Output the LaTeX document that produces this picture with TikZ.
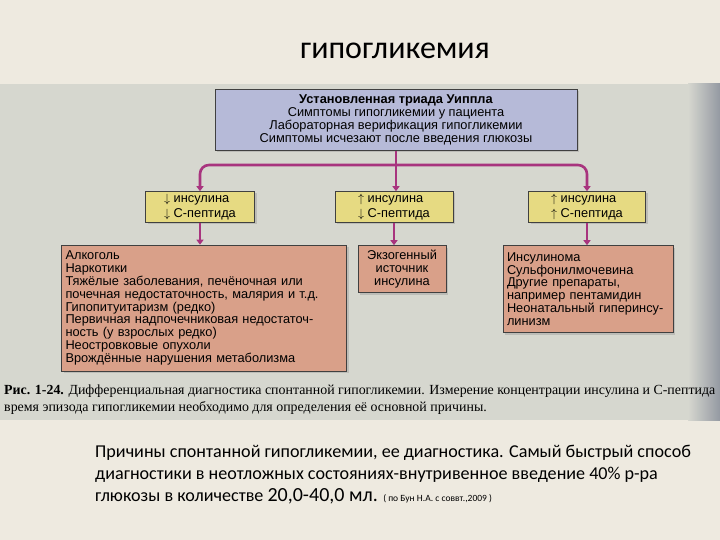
\documentclass[tikz,border=0pt]{standalone}
\usepackage{fontspec}
\usepackage{tikz}
\usetikzlibrary{arrows.meta,shadows}
\newfontfamily\boxfont{Liberation Sans}
\newfontfamily\capfont{Liberation Serif}
\newfontfamily\slidefont{Carlito}
\definecolor{cream}{HTML}{EEEAE0}
\definecolor{panel}{HTML}{D6D7CF}
\definecolor{paneledge}{HTML}{9499A2}
\definecolor{lavender}{HTML}{B6BAD8}
\definecolor{lemon}{HTML}{E6DA82}
\definecolor{salmon}{HTML}{D9A089}
\definecolor{plum}{HTML}{A8347E}
\begin{document}
\begin{tikzpicture}[x=1pt,y=-1pt,
        box/.style={draw=black!75, line width=0.6pt, inner sep=4pt,
            font=\boxfont\fontsize{12.8}{12.8}\selectfont,
            drop shadow={shadow xshift=2pt, shadow yshift=-2pt, opacity=0.3}},
        topbox/.style={box, fill=lavender, align=center},
        midbox/.style={box, fill=lemon, align=left, inner ysep=2pt,
            font=\boxfont\fontsize{12.8}{14.5}\selectfont},
        lowbox/.style={box, fill=salmon, align=left},
        link/.style={draw=plum, line width=2.6pt, -{Triangle[length=5pt,width=7pt]}}]
    \useasboundingbox (0,0) rectangle (720,540);
    % background and scanned panel
    \fill[cream] (0,0) rectangle (720,540);
    \fill[panel] (0,84) rectangle (720,420);
    \shade[left color=panel, right color=paneledge] (688,84) rectangle (720,420);
    \node[font=\slidefont\fontsize{32}{36}\selectfont] (title) at (395,51) {гипогликемия};
    % boxes
    \node[topbox, minimum width=362pt, minimum height=61pt] (triad) at (396,120)
        {\textbf{Установленная триада Уиппла}\\
         Симптомы гипогликемии у пациента\\
         Лабораторная верификация гипогликемии\\
         Симптомы исчезают после введения глюкозы};
    \node[midbox, minimum width=109pt, minimum height=31pt] (lowins) at (200,207)
        {$\downarrow$ инсулина\\ $\downarrow$ С-пептида};
    \node[midbox, minimum width=118pt, minimum height=31pt] (highins) at (394,207)
        {$\uparrow$ инсулина\\ $\downarrow$ С-пептида};
    \node[midbox, minimum width=117pt, minimum height=31pt] (bothhigh) at (587,207)
        {$\uparrow$ инсулина\\ $\uparrow$ С-пептида};
    \node[lowbox, text width=277pt, minimum height=126pt] (causes) at (204,308)
        {Алкоголь\\
         Наркотики\\
         Тяжёлые заболевания, печёночная или\\
         почечная недостаточность, малярия и т.д.\\
         Гипопитуитаризм (редко)\\
         Первичная надпочечниковая недостаточ-\\
         ность (у взрослых редко)\\
         Неостровковые опухоли\\
         Врождённые нарушения метаболизма};
    \node[lowbox, align=center, minimum width=88pt, minimum height=47pt] (exo) at (402,269)
        {Экзогенный\\ источник\\ инсулина};
    \node[lowbox, text width=162pt, minimum height=87pt] (tumor) at (588,289)
        {Инсулинома\\
         Сульфонилмочевина\\
         Другие препараты,\\
         например пентамидин\\
         Неонатальный гиперинсу-\\
         линизм};
    % connectors
    \coordinate (fork) at (triad.south |- 0,165);
    \draw[draw=plum, line width=2.6pt] (triad.south) -- (fork);
    \draw[link, rounded corners=9pt] (fork) -| (lowins.north);
    \draw[link] (fork) -- (highins.north -| fork);
    \draw[link, rounded corners=9pt] (fork) -| (bothhigh.north);
    \draw[link] (lowins.south) -- (lowins.south |- causes.north);
    \draw[link] (highins.south) -- (highins.south |- exo.north);
    \draw[link] (bothhigh.south) -- (bothhigh.south |- tumor.north);
    % caption and notes
    \node[anchor=north west, align=left, inner sep=0pt,
          font=\capfont\fontsize{13.9}{17}\selectfont] (caption) at (4,385)
        {\textbf{Рис. 1-24.} Дифференциальная диагностика спонтанной гипогликемии. Измерение концентрации инсулина и С-пептида\\
         время эпизода гипогликемии необходимо для определения её основной причины.};
    \node[anchor=north west, align=left, inner sep=0pt,
          font=\slidefont\fontsize{18.1}{22}\selectfont] (note) at (95,445)
        {Причины спонтанной гипогликемии, ее диагностика. Самый быстрый способ\\
         диагностики в неотложных состояниях-внутривенное введение 40\% р-ра\\
         глюкозы в количестве {\fontsize{20}{22}\selectfont 20,0-40,0 мл.} {\fontsize{9.5}{11}\selectfont ( по Бун Н.А. с соввт.,2009 )}};
\end{tikzpicture}
\end{document}
